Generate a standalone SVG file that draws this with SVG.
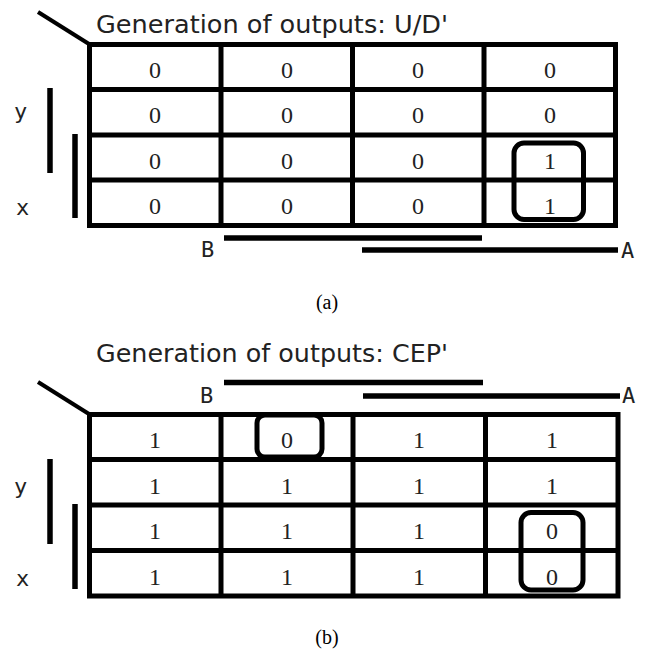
<svg xmlns="http://www.w3.org/2000/svg" width="648" height="652" viewBox="0 0 648 652">
<style>
.grid{fill:none;stroke:#000;stroke-width:5}
.bar{stroke:#000;stroke-width:5.5;fill:none}
.diag{stroke:#000;stroke-width:4;fill:none}
.loop{fill:none;stroke:#000;stroke-width:5}
.title{font-family:"DejaVu Sans",sans-serif;font-size:24.5px;fill:#222}
.d{font-family:"Liberation Serif",serif;font-size:24px;fill:#222;text-anchor:middle}
.lbl{font-family:"DejaVu Sans Mono",monospace;font-size:22px;fill:#222}
.cap{font-family:"Liberation Serif",serif;font-size:20px;fill:#000;text-anchor:middle}
</style>
<rect width="648" height="652" fill="#fff"/>

<g id="map-a">
  <text class="title" x="96" y="33" textLength="352" lengthAdjust="spacingAndGlyphs">Generation of outputs: U/D'</text>
  <line class="diag" x1="38" y1="12" x2="89" y2="44"/>
  <g id="grid-a">
    <rect class="grid" x="89.5" y="44.5" width="526" height="181"/>
    <path class="grid" d="M89.5 89.5H615.5M89.5 135H615.5M89.5 180H615.5M221 44.5V225.5M352.5 44.5V225.5M484 44.5V225.5"/>
  </g>
  <g id="cells-a">
    <text class="d" x="155" y="78">0</text><text class="d" x="287" y="78">0</text><text class="d" x="418" y="78">0</text><text class="d" x="550" y="78">0</text>
    <text class="d" x="155" y="123">0</text><text class="d" x="287" y="123">0</text><text class="d" x="418" y="123">0</text><text class="d" x="550" y="123">0</text>
    <text class="d" x="155" y="168.5">0</text><text class="d" x="287" y="168.5">0</text><text class="d" x="418" y="168.5">0</text><text class="d" x="550" y="168.5">1</text>
    <text class="d" x="155" y="214">0</text><text class="d" x="287" y="214">0</text><text class="d" x="418" y="214">0</text><text class="d" x="550" y="214">1</text>
  </g>
  <g id="loop-a">
    <rect class="loop" x="514" y="143" width="69.5" height="76.5" rx="10"/>
  </g>
  <g id="vars-a">
    <line class="bar" x1="50" y1="88" x2="50" y2="173"/>
    <line class="bar" x1="75" y1="134" x2="75" y2="218"/>
    <text class="lbl" x="14" y="119">y</text>
    <text class="lbl" x="16" y="215">x</text>
    <line class="bar" x1="224" y1="238" x2="482" y2="238"/>
    <line class="bar" x1="362" y1="250" x2="618" y2="250"/>
    <text class="lbl" x="201" y="256.5">B</text>
    <text class="lbl" x="621" y="258">A</text>
  </g>
  <text class="cap" x="327" y="309">(a)</text>
</g>

<g id="map-b">
  <text class="title" x="96" y="361.5" textLength="352" lengthAdjust="spacingAndGlyphs">Generation of outputs: CEP'</text>
  <line class="diag" x1="38" y1="382" x2="89" y2="414"/>
  <g id="grid-b">
    <rect class="grid" x="89.5" y="414.5" width="528.5" height="181.5"/>
    <path class="grid" d="M89.5 459.5H618M89.5 505H618M89.5 550.5H618M221 414.5V596M353 414.5V596M485.5 414.5V596"/>
  </g>
  <g id="cells-b">
    <text class="d" x="155" y="448">1</text><text class="d" x="287" y="448">0</text><text class="d" x="419" y="448">1</text><text class="d" x="552" y="448">1</text>
    <text class="d" x="155" y="493.5">1</text><text class="d" x="287" y="493.5">1</text><text class="d" x="419" y="493.5">1</text><text class="d" x="552" y="493.5">1</text>
    <text class="d" x="155" y="539">1</text><text class="d" x="287" y="539">1</text><text class="d" x="419" y="539">1</text><text class="d" x="552" y="539">0</text>
    <text class="d" x="155" y="584.5">1</text><text class="d" x="287" y="584.5">1</text><text class="d" x="419" y="584.5">1</text><text class="d" x="552" y="584.5">0</text>
  </g>
  <g id="loops-b">
    <rect class="loop" x="257" y="415" width="65" height="42" rx="8"/>
    <rect class="loop" x="521" y="512.5" width="62" height="77.5" rx="10"/>
  </g>
  <g id="vars-b">
    <line class="bar" x1="50" y1="459" x2="50" y2="544"/>
    <line class="bar" x1="75" y1="504" x2="75" y2="589"/>
    <text class="lbl" x="14" y="494">y</text>
    <text class="lbl" x="16" y="586">x</text>
    <line class="bar" x1="224" y1="382.5" x2="483" y2="382.5"/>
    <line class="bar" x1="363" y1="396" x2="620" y2="396"/>
    <text class="lbl" x="200" y="403">B</text>
    <text class="lbl" x="622" y="403">A</text>
  </g>
  <text class="cap" x="327" y="644">(b)</text>
</g>
</svg>
